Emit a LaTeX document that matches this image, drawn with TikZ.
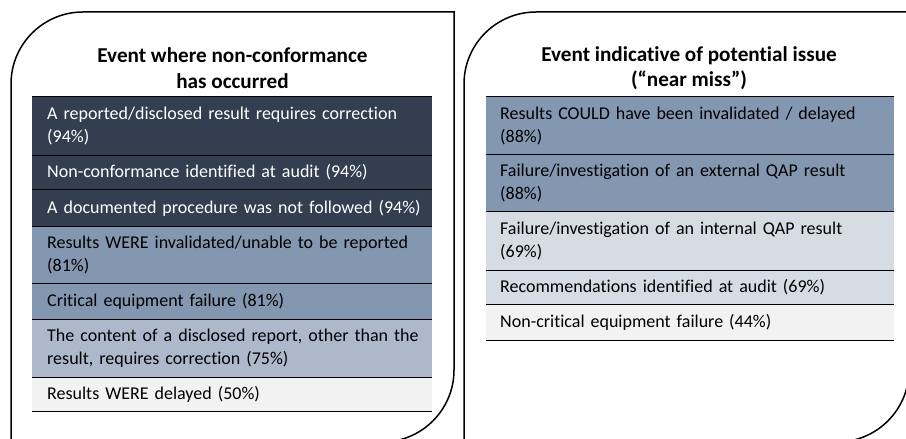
\documentclass[tikz,border=0pt]{standalone}
\usepackage{fontspec}
\setmainfont{Carlito}[Ligatures={NoCommon,TeX}]
\definecolor{rowdark}{HTML}{333F50}
\definecolor{rowmid}{HTML}{8497B0}
\definecolor{rowsoft}{HTML}{ADB9CA}
\definecolor{rowpale}{HTML}{D6DCE4}
\definecolor{rowgrey}{HTML}{F2F2F2}
\newcommand{\bodyfont}{\fontsize{18}{23}\selectfont}
\newcommand{\headfont}{\fontsize{21.2}{25.5}\selectfont\bfseries}
\tikzset{
  x=1pt, y=1pt,
  panel/.style={draw=black, line width=1.5pt},
  % text starts 15pt inside the row, but may run up to 8pt from its right end
  lrow/.style={anchor=north west, inner xsep=7.5pt, inner ysep=0pt,
    text width=385pt, align=left, font=\bodyfont, text=black,
    execute at begin node={\leftskip=7.5pt\relax}},
  rrow/.style={lrow, text width=393pt, execute at begin node={\leftskip=6.5pt\relax}},
  darkrow/.style={fill=rowdark, text=white},
  rowline/.style={draw=black, line width=1pt},
  heading/.style={align=center, font=\headfont, inner sep=0pt}
}
\begin{document}
\begin{tikzpicture}
\useasboundingbox (0,0) rectangle (906,439);
\clip (0,0) rectangle (906,439);
\fill[white] (0,0) rectangle (906,439);

% outer panels: rounded top-left and bottom-right corners
\draw[panel] (11,-3) -- (11,355) arc[start angle=180, end angle=90, radius=72]
  -- (454,427) -- (454,69) arc[start angle=0, end angle=-90, radius=72] -- cycle;
\draw[panel] (464,-3) -- (464,355) arc[start angle=180, end angle=90, radius=72]
  -- (909,427) -- (909,69) arc[start angle=0, end angle=-90, radius=72] -- cycle;

% headings
\node[heading] (hl) at (232.5,371) {Event where non-conformance\\has occurred};
\node[heading] (hr) at (689,371) {Event indicative of potential issue\\(“near miss”)};

% left list
\node[lrow, darkrow, minimum height=58pt] (l1) at (32,342) {A reported/disclosed result requires correction (94\%)};
\node[lrow, darkrow, minimum height=34pt] (l2) at (l1.south west) {Non-conformance identified at audit (94\%)};
\node[lrow, darkrow, minimum height=36pt] (l3) at (l2.south west) {A documented procedure was not followed (94\%)};
\node[lrow, fill=rowmid, minimum height=57pt] (l4) at (l3.south west) {Results WERE invalidated/unable to be reported (81\%)};
\node[lrow, fill=rowmid, minimum height=36pt] (l5) at (l4.south west) {Critical equipment failure (81\%)};
\node[lrow, fill=rowsoft, minimum height=57pt] (l6) at (l5.south west) {The content of a disclosed report, other than the result, requires correction (75\%)};
\node[lrow, fill=rowgrey, minimum height=34pt] (l7) at (l6.south west) {Results WERE delayed (50\%)};

% right list
\node[rrow, fill=rowmid, minimum height=57pt] (r1) at (486,342) {Results COULD have been invalidated / delayed (88\%)};
\node[rrow, fill=rowmid, minimum height=57pt] (r2) at (r1.south west) {Failure/investigation of an external QAP result (88\%)};
\node[rrow, fill=rowpale, minimum height=58pt] (r3) at (r2.south west) {Failure/investigation of an internal QAP result (69\%)};
\node[rrow, fill=rowpale, minimum height=34pt] (r4) at (r3.south west) {Recommendations identified at audit (69\%)};
\node[rrow, fill=rowgrey, minimum height=36pt] (r5) at (r4.south west) {Non-critical equipment failure (44\%)};

% row separators
\draw[rowline] (l1.north west) -- (l1.north east);
\foreach \r in {l1,l2,l3,l4,l5,l6,l7}
  \draw[rowline] (\r.south west) -- (\r.south east);
\draw[rowline] (r1.north west) -- (r1.north east);
\foreach \r in {r1,r2,r3,r4,r5}
  \draw[rowline] (\r.south west) -- (\r.south east);
\end{tikzpicture}
\end{document}
